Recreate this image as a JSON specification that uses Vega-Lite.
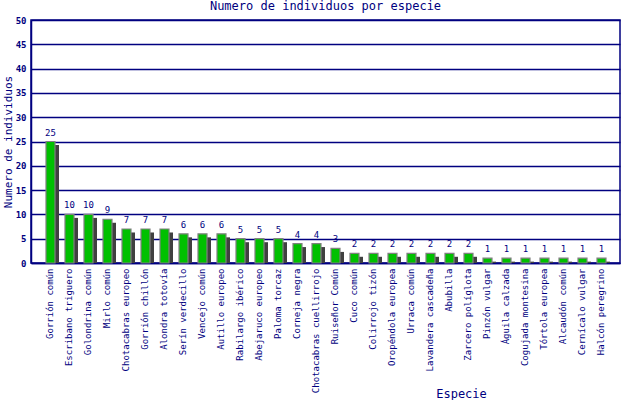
{
  "$schema": "https://vega.github.io/schema/vega-lite/v6.json",
  "autosize": "none",
  "width": 589,
  "height": 243,
  "padding": {"left": 31, "top": 20, "right": 20, "bottom": 137},
  "background": "white",
  "title": {
    "text": "Numero de individuos por especie",
    "font": "DejaVu Sans Mono",
    "fontSize": 12,
    "fontWeight": "normal",
    "color": "#000080",
    "anchor": "middle",
    "offset": 3
  },
  "config": {
    "view": {"stroke": "#000080", "strokeWidth": 1.5},
    "font": "DejaVu Sans Mono"
  },
  "data": {
    "values": [
      {"especie": "Gorrión común", "n": 25},
      {"especie": "Escribano triguero", "n": 10},
      {"especie": "Golondrina común", "n": 10},
      {"especie": "Mirlo común", "n": 9},
      {"especie": "Chotacabras europeo", "n": 7},
      {"especie": "Gorrión chillón", "n": 7},
      {"especie": "Alondra totovía", "n": 7},
      {"especie": "Serín verdecillo", "n": 6},
      {"especie": "Vencejo común", "n": 6},
      {"especie": "Autillo europeo", "n": 6},
      {"especie": "Rabilargo ibérico", "n": 5},
      {"especie": "Abejaruco europeo", "n": 5},
      {"especie": "Paloma torcaz", "n": 5},
      {"especie": "Corneja negra", "n": 4},
      {"especie": "Chotacabras cuellirrojo", "n": 4},
      {"especie": "Ruiseñor Común", "n": 3},
      {"especie": "Cuco común", "n": 2},
      {"especie": "Colirrojo tizón", "n": 2},
      {"especie": "Oropéndola europea", "n": 2},
      {"especie": "Urraca común", "n": 2},
      {"especie": "Lavandera cascadeña", "n": 2},
      {"especie": "Abubilla", "n": 2},
      {"especie": "Zarcero políglota", "n": 2},
      {"especie": "Pinzón vulgar", "n": 1},
      {"especie": "Águila calzada", "n": 1},
      {"especie": "Cogujada montesina", "n": 1},
      {"especie": "Tórtola europea", "n": 1},
      {"especie": "Alcaudón común", "n": 1},
      {"especie": "Cernícalo vulgar", "n": 1},
      {"especie": "Halcón peregrino", "n": 1}
    ]
  },
  "encoding": {
    "x": {
      "field": "especie",
      "type": "nominal",
      "sort": null,
      "scale": {"paddingInner": 0, "paddingOuter": 0.5},
      "axis": {
        "title": "Especie",
        "titleFont": "DejaVu Sans Mono",
        "titleFontSize": 12,
        "titleFontWeight": "normal",
        "titleColor": "#000080",
        "titleX": 430,
        "titleY": 130,
        "titleBaseline": "middle",
        "labelAngle": 270,
        "labelAlign": "right",
        "labelBaseline": "middle",
        "labelPadding": 5,
        "labelFontSize": 9,
        "labelColor": "#000080",
        "labelOverlap": false,
        "labelLimit": 200,
        "ticks": false,
        "domainColor": "#000080",
        "domainWidth": 1.5,
        "grid": false
      }
    },
    "y": {
      "field": "n",
      "type": "quantitative",
      "scale": {"domain": [0, 50], "nice": false},
      "axis": {
        "title": "Numero de individuos",
        "titleFont": "DejaVu Sans Mono",
        "titleFontSize": 11,
        "titleFontWeight": "normal",
        "titleColor": "#000080",
        "titleAngle": 270,
        "titleAlign": "center",
        "titleBaseline": "middle",
        "titleX": -23,
        "titleY": 121.5,
        "values": [0, 5, 10, 15, 20, 25, 30, 35, 40, 45, 50],
        "labelFontSize": 9,
        "labelFontWeight": "bold",
        "labelColor": "#000080",
        "labelPadding": 5,
        "ticks": false,
        "grid": true,
        "gridColor": "#000080",
        "gridWidth": 1.5,
        "gridOpacity": 1,
        "domainColor": "#000080",
        "domainWidth": 1.5
      }
    }
  },
  "layer": [
    {
      "mark": {"type": "bar", "width": 9, "xOffset": 4.5, "yOffset": 3.5, "y2Offset": 0, "color": "#404040"},
      "encoding": {"y2": {"datum": 0}}
    },
    {
      "mark": {"type": "bar", "width": 9, "xOffset": 0.5, "color": "#00c000", "stroke": "#808080", "strokeWidth": 1.2}
    },
    {
      "mark": {"type": "text", "baseline": "bottom", "dy": -4, "dx": 0.5, "fontSize": 9, "color": "#000080"},
      "encoding": {"text": {"field": "n", "type": "quantitative"}}
    }
  ]
}
